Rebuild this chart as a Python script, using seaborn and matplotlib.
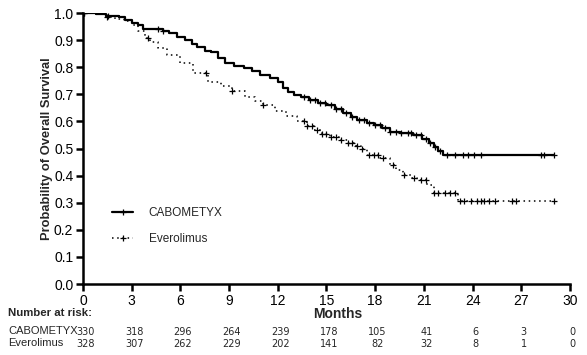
import numpy as np
import pandas as pd
import matplotlib
matplotlib.use("Agg")
import matplotlib.pyplot as plt
import seaborn as sns

# Kaplan-Meier step points (months, survival)
cabo_t = [0, 0.8, 1.4, 2.2, 2.6, 3.0, 3.4, 3.7, 4.9, 5.3, 5.8, 6.3, 6.7, 7.0, 7.5, 7.9,
          8.3, 8.75, 9.3, 9.9, 10.4, 10.9, 11.5, 12.0, 12.3, 12.6, 13.0, 13.4, 13.9,
          14.5, 15.0, 15.5, 16.0, 16.5, 16.9, 17.5, 17.9, 18.4, 18.9, 19.5, 20.3, 20.9,
          21.3, 21.6, 21.9, 22.2, 29.0]
cabo_s = [1.0, 0.997, 0.99, 0.985, 0.975, 0.965, 0.955, 0.94, 0.935, 0.925, 0.911, 0.90,
          0.885, 0.875, 0.862, 0.855, 0.835, 0.815, 0.805, 0.797, 0.785, 0.771, 0.76,
          0.745, 0.725, 0.708, 0.697, 0.69, 0.679, 0.67, 0.66, 0.645, 0.63, 0.615, 0.605,
          0.595, 0.587, 0.575, 0.563, 0.557, 0.55, 0.535, 0.52, 0.505, 0.49, 0.478, 0.478]
evero_t = [0, 1.0, 1.5, 2.0, 2.5, 3.0, 3.4, 3.8, 4.1, 4.6, 5.2, 6.0, 6.8, 7.7, 8.5, 9.2,
           10.0, 10.6, 11.1, 11.8, 12.5, 13.2, 13.8, 14.2, 14.7, 15.2, 15.8, 16.3, 16.8,
           17.1, 17.5, 18.3, 18.9, 19.3, 19.7, 20.2, 20.6, 21.2, 21.6, 23.1, 29.0]
evero_s = [1.0, 0.995, 0.985, 0.978, 0.97, 0.955, 0.935, 0.91, 0.893, 0.87, 0.845, 0.815,
           0.78, 0.745, 0.73, 0.712, 0.69, 0.675, 0.66, 0.64, 0.62, 0.60, 0.585, 0.568,
           0.555, 0.543, 0.532, 0.52, 0.508, 0.50, 0.476, 0.465, 0.44, 0.42, 0.402, 0.392,
           0.384, 0.365, 0.336, 0.306, 0.306]

# censored observations (months)
cabo_cens = [0.05, 1.55, 4.6, 4.9, 13.6, 14.0, 14.3, 14.6, 14.9, 15.3, 15.6, 15.9, 16.2,
             16.6, 17.0, 17.3, 17.6, 18.0, 18.3, 18.6, 18.9, 19.3, 19.6, 20.0, 20.2, 20.5,
             20.8, 21.1, 21.4, 21.7, 22.0, 22.4, 22.9, 23.4, 23.7, 24.1, 24.5, 28.2, 28.4,
             29.0]
evero_cens = [0.05, 1.5, 4.0, 7.6, 9.2, 11.1, 13.6, 13.8, 14.1, 14.4, 14.7, 15.0, 15.3,
              15.6, 15.9, 16.3, 16.6, 16.9, 17.2, 17.6, 17.9, 18.2, 18.5, 19.1, 19.8, 20.4,
              20.8, 21.1, 21.6, 21.9, 22.3, 22.6, 22.9, 23.2, 23.5, 23.9, 24.3, 24.5, 24.7,
              25.0, 25.4, 26.4, 26.7, 29.0]

risk_months = [0, 3, 6, 9, 12, 15, 18, 21, 24, 27, 30]
cabo_risk = [330, 318, 296, 264, 239, 178, 105, 41, 6, 3, 0]
evero_risk = [328, 307, 262, 229, 202, 141, 82, 32, 8, 1, 0]

sns.set_style("ticks")
plt.rcParams["font.family"] = ["Liberation Sans", "DejaVu Sans"]

fig = plt.figure(figsize=(5.87, 3.55), dpi=100)
ax = fig.add_axes([0.1414, 0.2, 0.8296, 0.763])


def step_at(times, surv, cens):
    idx = np.searchsorted(times, cens, side="right") - 1
    return np.asarray(surv)[idx]


df_c = pd.DataFrame({"t": cabo_t, "s": cabo_s})
df_e = pd.DataFrame({"t": evero_t, "s": evero_s})

sns.lineplot(data=df_c, x="t", y="s", ax=ax, color="black", lw=1.6,
             drawstyle="steps-post", estimator=None, sort=False)
sns.lineplot(data=df_e, x="t", y="s", ax=ax, color="black", lw=1.1,
             drawstyle="steps-post", estimator=None, sort=False, linestyle=(0, (1, 2.4)))

ax.plot(cabo_cens, step_at(cabo_t, cabo_s, cabo_cens), ls="none", marker="+",
        ms=5, mew=0.9, color="black")
ax.plot(evero_cens, step_at(evero_t, evero_s, evero_cens), ls="none", marker="+",
        ms=5, mew=0.9, color="black")

# legend handles
h1, = ax.plot([], [], color="black", lw=1.6, marker="+", ms=5, mew=0.9)
h2, = ax.plot([], [], color="black", lw=1.1, linestyle=(0, (1, 2.4)), marker="+", ms=5, mew=0.9)
ax.legend([h1, h2], ["CABOMETYX", "Everolimus"], loc="upper left",
          bbox_to_anchor=(0.06, 0.285), frameon=False, fontsize=8.5,
          handlelength=1.8, handletextpad=1.3, labelspacing=1.2,
          borderpad=0, borderaxespad=0)

ax.set_xlim(0, 30)
ax.set_ylim(0, 1.0)
ax.set_xticks(risk_months)
ax.set_yticks(np.arange(0, 1.01, 0.1))
ax.set_yticklabels([f"{v:.1f}" for v in np.arange(0, 1.01, 0.1)])
ax.tick_params(axis="both", direction="out", length=5, width=1.8, labelsize=10,
               color="black", labelcolor="black", pad=2)
for sp in ["left", "bottom"]:
    ax.spines[sp].set_linewidth(1.8)
    ax.spines[sp].set_color("black")
sns.despine(ax=ax)
ax.set_xlabel("")
ax.set_ylabel("Probability of Overall Survival", fontsize=9.3, fontweight="bold", labelpad=1)

# number at risk table
tr = matplotlib.transforms.blended_transform_factory(ax.transData, fig.transFigure)
fig.text(338 / 587, 1 - 314 / 355, "Months", ha="center", va="center",
         fontsize=10, fontweight="bold")
fig.text(8 / 587, 1 - 313 / 355, "Number at risk:", ha="left", va="center",
         fontsize=8.2, fontweight="bold")
fig.text(8 / 587, 1 - 331 / 355, "CABOMETYX", ha="left", va="center", fontsize=8)
fig.text(8 / 587, 1 - 343 / 355, "Everolimus", ha="left", va="center", fontsize=8)
for m, a, b in zip(risk_months, cabo_risk, evero_risk):
    ax.text(m + 0.15, 1 - 332 / 355, str(a), transform=tr, ha="center", va="center",
            fontsize=7, family="DejaVu Sans")
    ax.text(m + 0.15, 1 - 344 / 355, str(b), transform=tr, ha="center", va="center",
            fontsize=7, family="DejaVu Sans")

fig.savefig("out.png", dpi=100)
